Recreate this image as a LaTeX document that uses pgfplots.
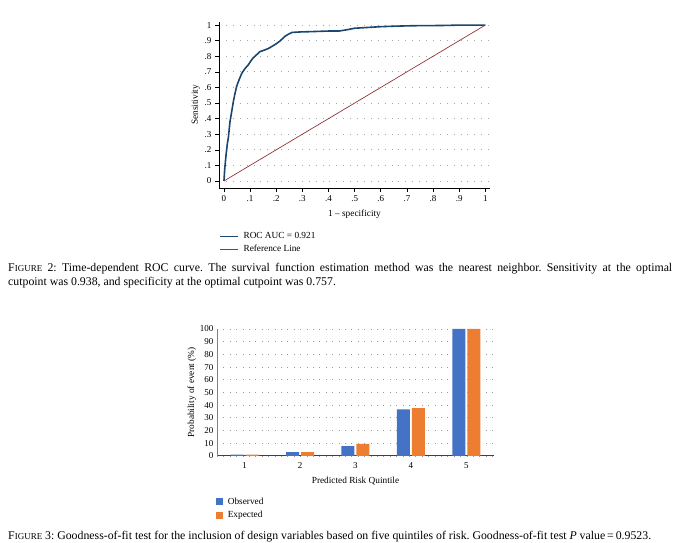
\documentclass[border=0pt]{standalone}
\usepackage{fontspec}
\setmainfont{Liberation Serif}
\usepackage{pgfplots}
\pgfplotsset{compat=1.18}
\definecolor{stnavy}{HTML}{1A476F}
\definecolor{stmaroon}{HTML}{90353B}
\definecolor{xlblue}{HTML}{4472C4}
\definecolor{xlorange}{HTML}{ED7D31}
\definecolor{axgray}{HTML}{404040}
\frenchspacing
\begin{document}
\begin{tikzpicture}[x=1pt,y=1pt]
\useasboundingbox (0,0) rectangle (681,543);
% ---------------- ROC chart ----------------
\begin{axis}[
  at={(219pt,355pt)}, anchor=south west,
  scale only axis, width=271pt, height=166pt,
  xmin=-0.019, xmax=1.018, ymin=-0.045, ymax=1.02,
  axis x line*=bottom, axis y line*=left,
  axis line style={-, black, line width=0.8pt},
  xtick={0,0.1,0.2,0.3,0.4,0.5,0.6,0.7,0.8,0.9,1},
  xticklabels={0,.1,.2,.3,.4,.5,.6,.7,.8,.9,1},
  ytick={0,0.1,0.2,0.3,0.4,0.5,0.6,0.7,0.8,0.9,1},
  yticklabels={0,.1,.2,.3,.4,.5,.6,.7,.8,.9,1},
  tick align=outside, major tick length=4pt,
  tick style={black, line width=0.6pt},
  ymajorgrids,
  grid style={gray!70, line width=0.9pt, dash pattern=on 0.9pt off 6pt},
  ticklabel style={font=\fontsize{9}{10}\selectfont},
  xlabel={1 -- specificity}, ylabel={Sensitivity},
  label style={font=\fontsize{9.3}{11}\selectfont},
  xlabel style={yshift=-1pt},
  ylabel style={yshift=-2pt},
  legend style={at={(0.0,-0.255)}, anchor=north west, draw=none, fill=none,
    font=\fontsize{9.3}{11}\selectfont, row sep=1pt, inner sep=0pt},
  legend cell align=left,
  legend image code/.code={\draw[#1, line width=1.1pt] (0pt,0pt) -- (18pt,0pt); \path (21pt,0pt);},
]
\addplot[stnavy, line width=1.6pt] coordinates {
 (0,0) (0.003,0.08) (0.008,0.167) (0.013,0.24) (0.017,0.28) (0.023,0.38)
 (0.030,0.45) (0.036,0.51) (0.042,0.56) (0.049,0.61) (0.058,0.65) (0.068,0.69)
 (0.080,0.72) (0.093,0.745) (0.105,0.775) (0.112,0.79) (0.125,0.81) (0.138,0.83)
 (0.155,0.84) (0.170,0.85) (0.185,0.865) (0.200,0.88) (0.212,0.895) (0.222,0.91)
 (0.235,0.93) (0.245,0.94) (0.26,0.953) (0.29,0.956) (0.33,0.958) (0.40,0.962)
 (0.44,0.962) (0.47,0.97) (0.50,0.98) (0.55,0.985) (0.60,0.99) (0.65,0.993)
 (0.72,0.996) (0.80,0.997) (0.85,0.998) (0.90,1) (1,1)
};
\addlegendentry{ROC AUC = 0.921}
\addplot[stmaroon, line width=0.7pt] coordinates {(0,0) (1,1)};
\addlegendentry{Reference Line}
\end{axis}
% ---------------- Bar chart ----------------
\begin{axis}[
  at={(217pt,87pt)}, anchor=south west,
  scale only axis, width=277pt, height=127pt,
  xmin=0.5, xmax=5.5, ymin=0, ymax=100,
  axis x line*=bottom, axis y line*=left,
  axis line style={-},
  x axis line style={axgray, line width=1pt},
  y axis line style={gray, line width=0.6pt},
  ybar=2pt, bar width=13pt,
  xtick={1,2,3,4,5}, ytick={0,10,20,30,40,50,60,70,80,90,100},
  major tick length=0pt,
  ymajorgrids,
  grid style={gray!80, line width=0.9pt, dash pattern=on 0.9pt off 5.5pt},
  ticklabel style={font=\fontsize{9}{10}\selectfont},
  xticklabel style={yshift=-3pt},
  /pgf/number format/assume math mode=true,
  xlabel={Predicted Risk Quintile}, ylabel={Probability of event (\%)},
  label style={font=\fontsize{9.3}{11}\selectfont},
  xlabel style={yshift=-2pt},
  ylabel style={yshift=-3pt},
  legend style={at={(-0.005,-0.31)}, anchor=north west, draw=none, fill=none,
    font=\fontsize{9.3}{11}\selectfont, row sep=2pt, inner sep=0pt},
  legend cell align=left,
  legend image code/.code={\fill[#1] (0pt,-3.5pt) rectangle (7pt,3.5pt); \path (10pt,0pt);},
]
\addplot[fill=xlblue, draw=none] coordinates {(1,1.0) (2,3.0) (3,7.7) (4,36.8) (5,100)};
\addlegendentry{Observed}
\addplot[fill=xlorange, draw=none] coordinates {(1,1.0) (2,3.1) (3,9.5) (4,37.7) (5,100)};
\addlegendentry{Expected}
\end{axis}
% ---------------- Captions ----------------
\node[anchor=north west, text width=664pt, align=justify, inner sep=0pt,
  font=\fontsize{11.8}{14}\selectfont] at (8,280)
 {F{\fontsize{9}{9}\selectfont IGURE} 2: Time-dependent ROC curve. The survival function estimation method was the nearest neighbor. Sensitivity at the optimal\linebreak cutpoint was 0.938, and specificity at the optimal cutpoint was 0.757.};
\node[anchor=north west, inner sep=0pt, font=\fontsize{11.8}{14}\selectfont] at (8,12)
 {F{\fontsize{9}{9}\selectfont IGURE} 3: Goodness-of-fit test for the inclusion of design variables based on five quintiles of risk. Goodness-of-fit test \textit{P} value\,=\,0.9523.};
\end{tikzpicture}
\end{document}
